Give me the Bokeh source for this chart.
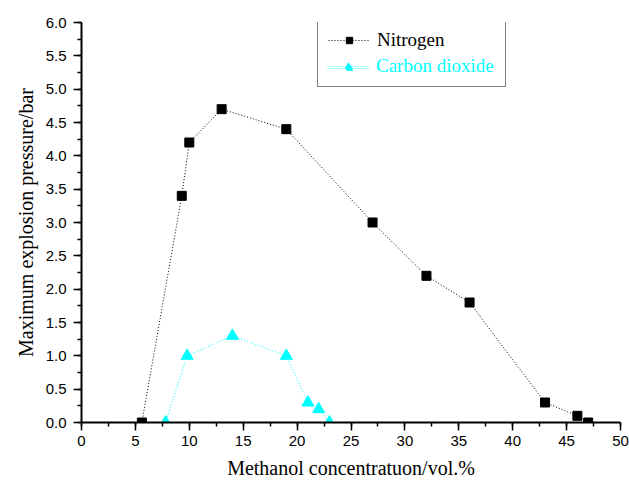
from bokeh.plotting import figure
from bokeh.models import Range1d, SingleIntervalTicker, Legend, LegendItem, NumeralTickFormatter
from bokeh.embed import file_html
from bokeh.resources import INLINE

n2_x = [5.6, 9.3, 10, 13, 19, 27, 32, 36, 43, 46, 47]
n2_y = [0, 3.4, 4.2, 4.7, 4.4, 3.0, 2.2, 1.8, 0.3, 0.1, 0]
co2_x = [7.8, 9.8, 14, 19, 21, 22, 23]
co2_y = [0, 1.0, 1.3, 1.0, 0.3, 0.2, 0]

x_label = "Methanol concentratuon/vol.%"
y_label = "Maximum explosion pressure/bar"

p = figure(width=629, height=481, output_backend="svg", toolbar_location=None,
           x_range=Range1d(0, 50), y_range=Range1d(0, 6),
           min_border_left=81, min_border_right=9, min_border_top=22, min_border_bottom=59)
p.outline_line_color = None
p.xgrid.visible = False
p.ygrid.visible = False

CYAN = "#00ffff"
ln1 = p.line(n2_x, n2_y, line_color="black", line_dash="1 2", line_width=1)
mk1 = p.scatter(n2_x, n2_y, marker="square", size=9, fill_color="black", line_color="black")
ln2 = p.line(co2_x, co2_y, line_color=CYAN, line_dash="1 2", line_width=1)
mk2 = p.scatter(co2_x, co2_y, marker="triangle", size=12, fill_color=CYAN, line_color=CYAN)

for ax in (p.xaxis[0], p.yaxis[0]):
    ax.axis_line_width = 2
    ax.axis_line_color = "black"
    ax.major_tick_line_width = 1.5
    ax.minor_tick_line_width = 1.5
    ax.major_tick_out = 8
    ax.major_tick_in = 0
    ax.minor_tick_out = 4
    ax.minor_tick_in = 0
    ax.major_label_text_font = "Liberation Sans"
    ax.major_label_text_font_size = "15px"
    ax.major_label_text_color = "black"
    ax.axis_label_text_font = "Liberation Serif"
    ax.axis_label_text_font_size = "20px"
    ax.axis_label_text_font_style = "normal"
    ax.axis_label_text_color = "black"

p.xaxis[0].ticker = SingleIntervalTicker(interval=5, num_minor_ticks=2)
p.yaxis[0].ticker = SingleIntervalTicker(interval=0.5, num_minor_ticks=2)
p.yaxis[0].formatter = NumeralTickFormatter(format="0.0")
p.xaxis[0].axis_label = x_label
p.yaxis[0].axis_label = y_label
p.xaxis[0].major_label_standoff = 5
p.yaxis[0].major_label_standoff = 7
p.xaxis[0].axis_label_standoff = 8
p.yaxis[0].axis_label_standoff = 6

common = dict(location=(236, 335), padding=10, spacing=9, glyph_width=42, glyph_height=16,
              label_height=16, label_standoff=7, label_width=118,
              label_text_font="Liberation Serif", label_text_font_size="19px")

leg1 = Legend(items=[LegendItem(label="Nitrogen", renderers=[ln1, mk1]),
                     LegendItem(label=" ", renderers=[ln2, mk2])],
              border_line_color="black", border_line_width=1.5,
              background_fill_color="white", background_fill_alpha=1,
              label_text_color="black", **common)
leg2 = Legend(items=[LegendItem(label="Carbon dioxide", renderers=[ln2, mk2])],
              border_line_alpha=0, background_fill_alpha=0,
              label_text_color=CYAN, **common)
p.add_layout(leg1)
p.add_layout(leg2)

open("out.html", "w").write(file_html(p, INLINE))
